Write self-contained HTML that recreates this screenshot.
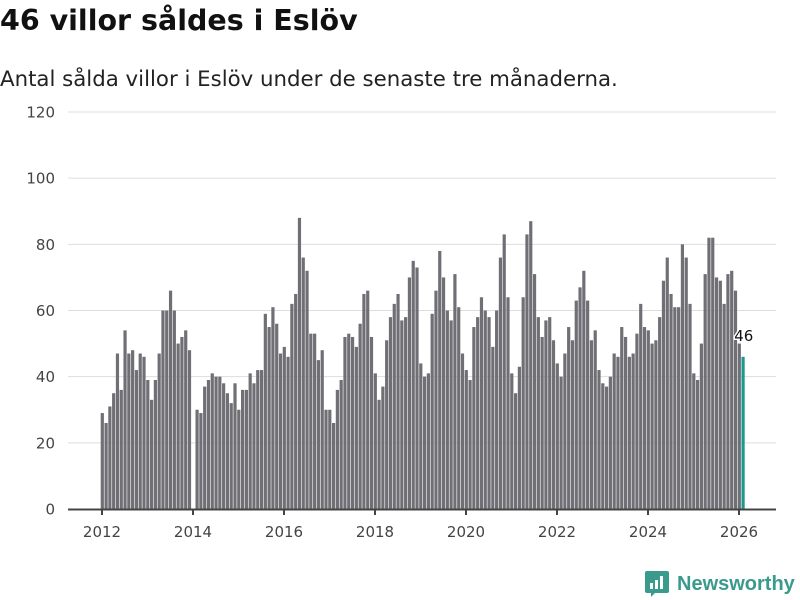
<!DOCTYPE html>
<html><head><meta charset="utf-8"><style>
body{margin:0;width:800px;height:600px;background:#fff;font-family:"DejaVu Sans","Liberation Sans",sans-serif;overflow:hidden;position:relative}
h1{position:absolute;left:0;top:4px;margin:0;font-size:28.5px;font-weight:bold;color:#111;font-family:"DejaVu Sans",sans-serif}
.sub{position:absolute;left:0;top:67px;font-size:21.3px;color:#222;font-family:"DejaVu Sans",sans-serif}
</style></head><body>
<h1>46 villor såldes i Eslöv</h1>
<div class="sub">Antal sålda villor i Eslöv under de senaste tre månaderna.</div>
<svg id="chart" width="800" height="600" style="position:absolute;left:0;top:0"></svg>
<script>
const values = [
29,26,31,35,47,36,54,47,48,42,47,46,
39,33,39,47,60,60,66,60,50,52,54,48,
0,30,29,37,39,41,40,40,38,35,32,38,
30,36,36,41,38,42,42,59,55,61,56,47,
49,46,62,65,88,76,72,53,53,45,48,30,
30,26,36,39,52,53,52,49,56,65,66,52,
41,33,37,51,58,62,65,57,58,70,75,73,
44,40,41,59,66,78,70,60,57,71,61,47,
42,39,55,58,64,60,58,49,60,76,83,64,
41,35,43,64,83,87,71,58,52,57,58,51,
44,40,47,55,51,63,67,72,63,51,54,42,
38,37,40,47,46,55,52,46,47,53,62,55,
54,50,51,58,69,76,65,61,61,80,76,62,
41,39,50,71,82,82,70,69,62,71,72,66,
50,46];
const startYear = 2012;
const yTicks = [0,20,40,60,80,100,120];
const xTicks = [2012,2014,2016,2018,2020,2022,2024,2026];
const NS="http://www.w3.org/2000/svg";
const svg=document.getElementById('chart');
const FONT='DejaVu Sans, Liberation Sans, sans-serif';
const y0=509, pxPerUnit=(509-112)/120;
const yScale=v=>y0-v*pxPerUnit;
const xScale=m=>102+m*(637/168);
function mk(t,a){const e=document.createElementNS(NS,t);for(const k in a)e.setAttribute(k,a[k]);svg.appendChild(e);return e;}
yTicks.forEach(t=>{
  if(t>0){const g=mk('line',{x1:68,x2:776,y1:yScale(t),y2:yScale(t),stroke:'#ddd','stroke-width':1});
  
  }
  const l=mk('text',{x:55,y:yScale(t)+5.5,'text-anchor':'end','font-size':15,fill:'#444','font-family':FONT});
  l.textContent=t;
  
  
});
values.forEach((v,i)=>{
  const last=i===values.length-1;
  const r=mk('rect',{x:xScale(i)-1.3,y:yScale(v),width:3.2,height:v*pxPerUnit,fill:last?'#1a9a8f':'#706f75'});
  
  
});
const ax=mk('line',{x1:68,x2:776,y1:y0+0.5,y2:y0+0.5,stroke:'#444','stroke-width':2});


xTicks.forEach(yr=>{
  const x=xScale((yr-startYear)*12);
  const tk=mk('line',{x1:x,x2:x,y1:y0,y2:y0+6,stroke:'#444','stroke-width':2});
  
  
  const l=mk('text',{x:x,y:537,'text-anchor':'middle','font-size':15,fill:'#444','font-family':FONT});
  l.textContent=yr;
  
  
});
const li=values.length-1;
const vl=mk('text',{x:xScale(li)+1,y:yScale(values[li])-16,'text-anchor':'middle','font-size':15,fill:'#111',stroke:'#fff','stroke-width':3,'paint-order':'stroke','font-family':FONT});
vl.textContent=values[li];


</script>
<div style="position:absolute;left:645px;top:571px;display:flex;align-items:center">
<svg width="24" height="26" viewBox="0 0 24 26"><path d="M2 0h20a2 2 0 0 1 2 2v18a2 2 0 0 1-2 2H10l-4 4v-4H2a2 2 0 0 1-2-2V2a2 2 0 0 1 2-2z" fill="#3a9a8c"/><rect x="5" y="12" width="3" height="6" fill="#fff"/><rect x="10" y="9" width="3" height="9" fill="#fff"/><rect x="15" y="5" width="3" height="13" fill="#fff"/></svg>
<span style="margin-left:8px;font-size:20px;font-weight:bold;color:#3a9a8c;font-family:'Liberation Sans',sans-serif">Newsworthy</span></div>
</body></html>
